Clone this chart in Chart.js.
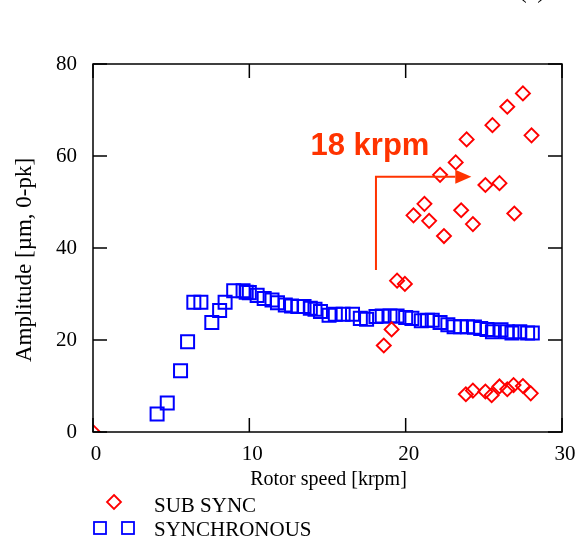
<!DOCTYPE html>
<html>
<head>
<meta charset="utf-8">
<script src="https://cdn.jsdelivr.net/npm/chart.js@4/dist/chart.umd.min.js"></script>
<style>
    html, body { margin: 0; padding: 0; background: #fff; }
</style>
</head>
<body>
<canvas id="grafico-rotor" width="576" height="542"></canvas>
<script>
// Sub-synchronous component (speed in krpm, amplitude in µm 0-pk)
const subSyncSpeed = [0, 18.6, 19.1, 19.45, 19.95, 20.5, 21.2, 21.5, 22.2, 22.45, 23.2, 23.55, 23.9, 24.3, 25.1, 25.55, 26.0, 26.5, 26.95, 27.5, 28.05,
    23.85, 24.3, 25.1, 25.5, 26.0, 26.5, 26.9, 27.5, 28.0];
const subSyncAmp = [0, 18.8, 22.3, 32.9, 32.2, 47.1, 49.6, 45.9, 55.9, 42.6, 58.6, 48.2, 63.6, 45.2, 53.7, 66.7, 54.1, 70.7, 47.5, 73.6, 64.5,
    8.2, 9.0, 8.8, 8.0, 9.9, 9.3, 10.2, 10.0, 8.4];

// Synchronous (1X) component
const syncSpeed = [4.1, 4.75, 5.6, 6.05, 6.45, 6.9, 7.6, 8.1, 8.45, 9.0, 9.6, 9.8, 10.0, 10.5, 10.95, 11.45, 11.8, 12.3,
    12.7, 13.1, 13.5, 13.9, 14.2, 14.55, 15.1, 15.5, 16.0, 16.6, 17.1, 17.5, 18.1, 18.5, 19.0, 19.45, 20.0, 20.4,
    21.0, 21.4, 21.7, 22.2, 22.7, 23.1, 23.5, 23.95, 24.4, 24.8, 25.2, 25.55, 26.1, 26.5, 26.8, 27.3, 27.8, 28.1];
const syncAmp = [3.9, 6.3, 13.3, 19.6, 28.2, 28.2, 23.8, 26.4, 28.2, 30.7, 30.7, 30.4, 30.3, 29.7, 29.0, 28.7, 28.1, 27.6,
    27.4, 27.3, 27.3, 26.9, 26.7, 26.2, 25.4, 25.6, 25.6, 25.6, 24.7, 24.5, 25.1, 25.2, 25.2, 25.2, 24.9, 24.7,
    24.2, 24.3, 24.3, 23.8, 23.3, 22.9, 22.9, 22.9, 22.8, 22.5, 22.3, 21.8, 22.2, 21.8, 21.5, 21.8, 21.5, 21.5];

const xTicks = [0, 10, 20, 30];
const yTicks = [0, 20, 40, 60, 80];

const seriesNames = ["SUB SYNC", "SYNCHRONOUS"];

// onset marker: vertical line at 18 krpm, then arrow to the right
const onsetLabel = "18 krpm";
const onsetSpeed = 18.1;
const onsetFrom = 35.2;
const onsetTo = 55.5;
const onsetArrowEnd = 24.2;

const SERIF = "'Liberation Serif', 'Times New Roman', serif";
const RED = "#ff0000";
const BLUE = "#0000ff";
const ORANGE = "#ff3300";

const toPoints = (xs, ys) => xs.map((x, i) => ({ x: x, y: ys[i] }));

const diamond = (ctx, x, y, r) => {
    ctx.beginPath();
    ctx.moveTo(x, y - r);
    ctx.lineTo(x + r, y);
    ctx.lineTo(x, y + r);
    ctx.lineTo(x - r, y);
    ctx.closePath();
    ctx.stroke();
};

const square = (ctx, x, y, half) => {
    ctx.strokeRect(x - half, y - half, half * 2, half * 2);
};

// frame with inward ticks on every side
const drawFrame = (chart) => {
    const { ctx, chartArea: area, scales } = chart;
    const tickLen = 14;

    ctx.save();
    ctx.strokeStyle = "#000";
    ctx.lineWidth = 1.5;
    ctx.strokeRect(area.left, area.top, area.right - area.left, area.bottom - area.top);

    ctx.beginPath();
    xTicks.forEach((v) => {
        const px = scales.x.getPixelForValue(v);
        ctx.moveTo(px, area.bottom);
        ctx.lineTo(px, area.bottom - tickLen);
        ctx.moveTo(px, area.top);
        ctx.lineTo(px, area.top + tickLen);
    });
    yTicks.forEach((v) => {
        const py = scales.y.getPixelForValue(v);
        ctx.moveTo(area.left, py);
        ctx.lineTo(area.left + tickLen, py);
        ctx.moveTo(area.right, py);
        ctx.lineTo(area.right - tickLen, py);
    });
    ctx.stroke();
    ctx.restore();
};

const drawOnset = (chart) => {
    const { ctx, scales } = chart;
    const x0 = scales.x.getPixelForValue(onsetSpeed);
    const x1 = scales.x.getPixelForValue(onsetArrowEnd);
    const yBottom = scales.y.getPixelForValue(onsetFrom);
    const yTop = scales.y.getPixelForValue(onsetTo);
    const headLen = 16;

    ctx.save();
    ctx.strokeStyle = ORANGE;
    ctx.fillStyle = ORANGE;
    ctx.lineWidth = 2;
    ctx.beginPath();
    ctx.moveTo(x0, yBottom);
    ctx.lineTo(x0, yTop);
    ctx.lineTo(x1 - headLen, yTop);
    ctx.stroke();

    ctx.beginPath();
    ctx.moveTo(x1, yTop);
    ctx.lineTo(x1 - headLen, yTop - 7);
    ctx.lineTo(x1 - headLen, yTop + 7);
    ctx.closePath();
    ctx.fill();

    ctx.font = "bold 31px 'Liberation Sans', Arial, sans-serif";
    ctx.textAlign = "center";
    ctx.textBaseline = "alphabetic";
    ctx.fillText(onsetLabel, x0 - 6, yTop - 22);
    ctx.restore();
};

const drawTexts = (chart) => {
    const { ctx, chartArea: area } = chart;

    ctx.save();
    ctx.fillStyle = "#000";
    ctx.textAlign = "center";
    ctx.textBaseline = "alphabetic";

    ctx.font = "20px " + SERIF;
    ctx.fillText("Rotor speed [krpm]", (area.left + area.right) / 2 + 1, 485);

    ctx.font = "24px " + SERIF;
    ctx.fillText("(c)", 532, -2);

    ctx.save();
    ctx.translate(31, 260);
    ctx.rotate(-Math.PI / 2);
    ctx.font = "23px " + SERIF;
    ctx.fillText("Amplitude [µm, 0-pk]", 0, 0);
    ctx.restore();

    // legend
    ctx.textAlign = "left";
    ctx.font = "21px " + SERIF;
    ctx.fillText(seriesNames[0], 154, 512);
    ctx.fillText(seriesNames[1], 154, 536);

    ctx.lineWidth = 1.8;
    ctx.strokeStyle = RED;
    diamond(ctx, 114, 502, 7);
    ctx.strokeStyle = BLUE;
    square(ctx, 100, 528, 6);
    square(ctx, 128, 528, 6);
    ctx.restore();
};

const decorPlugin = {
    id: "decor",
    afterDraw: (chart) => {
        drawFrame(chart);
        drawOnset(chart);
        drawTexts(chart);
    },
};

const ctx = document.getElementById("grafico-rotor").getContext("2d");

new Chart(ctx, {
    type: "scatter",
    data: {
        datasets: [
            {
                label: seriesNames[0],
                data: toPoints(subSyncSpeed, subSyncAmp),
                pointStyle: "rectRot",
                pointRadius: 7,
                pointHoverRadius: 7,
                borderColor: RED,
                backgroundColor: "rgba(0,0,0,0)",
                pointBorderWidth: 1.9,
            },
            {
                label: seriesNames[1],
                data: toPoints(syncSpeed, syncAmp),
                pointStyle: "rect",
                pointRadius: 9.2,
                pointHoverRadius: 9.2,
                borderColor: BLUE,
                backgroundColor: "rgba(0,0,0,0)",
                pointBorderWidth: 2,
            },
        ],
    },
    options: {
        responsive: false,
        animation: false,
        events: [],
        layout: {
            padding: { top: 64, right: 14, bottom: 70, left: 0 },
        },
        plugins: {
            legend: { display: false },
            tooltip: { enabled: false },
        },
        scales: {
            x: {
                type: "linear",
                min: 0,
                max: 30,
                afterBuildTicks: (scale) => {
                    scale.ticks = xTicks.map((v) => ({ value: v }));
                },
                afterFit: (scale) => {
                    scale.height = 40;
                    scale.paddingLeft = 0;
                    scale.paddingRight = 0;
                },
                grid: { display: false },
                border: { display: false },
                ticks: {
                    color: "#000",
                    padding: 2,
                    labelOffset: 3,
                    maxRotation: 0,
                    font: { family: SERIF, size: 21 },
                },
            },
            y: {
                type: "linear",
                min: 0,
                max: 80,
                afterBuildTicks: (scale) => {
                    scale.ticks = yTicks.map((v) => ({ value: v }));
                },
                afterFit: (scale) => {
                    scale.width = 93;
                    scale.paddingTop = 0;
                    scale.paddingBottom = 0;
                },
                grid: { display: false },
                border: { display: false },
                ticks: {
                    color: "#000",
                    padding: 8,
                    font: { family: SERIF, size: 21 },
                },
            },
        },
    },
    plugins: [decorPlugin],
});
</script>
</body>
</html>
